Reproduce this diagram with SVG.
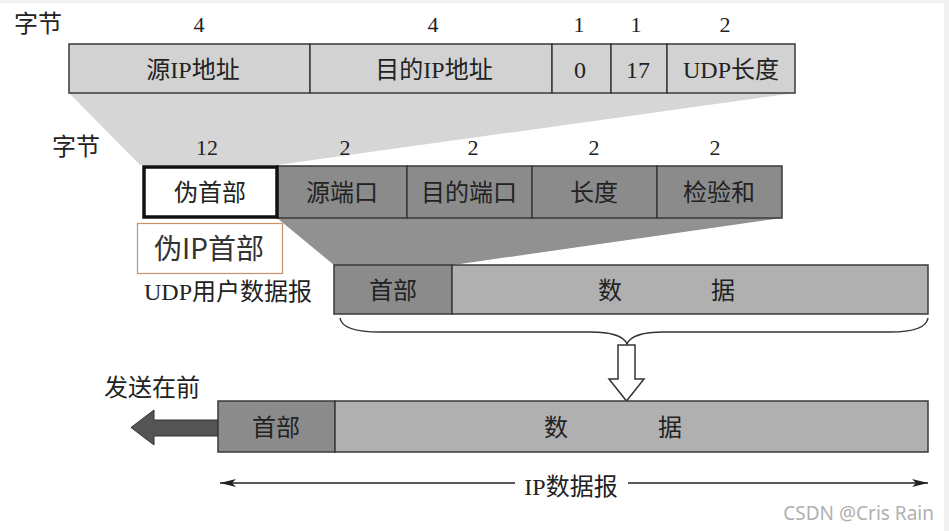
<svg xmlns="http://www.w3.org/2000/svg" width="949" height="531" viewBox="0 0 949 531">
<defs>
<style>
.t{font-family:"Liberation Serif","Noto Sans CJK SC",serif;fill:#222;text-anchor:middle}
.n{font-size:22px}
.f{font-size:24px}
.lt{fill:#d2d2d2;stroke:#3a3a3a;stroke-width:1.5}
.dk{fill:#8b8b8b;stroke:#3a3a3a;stroke-width:1.5}
.md{fill:#b0b0b0;stroke:#3a3a3a;stroke-width:1.5}
</style>
<marker id="ah" viewBox="0 0 16 8" refX="16" refY="4" markerWidth="16" markerHeight="8" markerUnits="userSpaceOnUse" orient="auto-start-reverse">
<path d="M0,0 L16,4 L0,8 L4,4 Z" fill="#222"/>
</marker>
</defs>
<rect width="949" height="531" fill="#f1f1f1"/>
<rect x="0" y="3" width="944" height="528" fill="#ffffff"/>

<g id="connectors">
<polygon points="69,93 795,93 277,165 140,165" fill="#d6d6d6"/>
<polygon points="277,218 782,218 453,265 334,265" fill="#919191"/>
<path d="M340,318 Q342,332 380,332 L590,332 Q622,332 627,344 Q632,332 664,332 L890,332 Q926,332 928,318" fill="none" stroke="#333" stroke-width="1.5"/>
<polygon points="618,345 635,345 635,379 644,379 626.5,401 609,379 618,379" fill="#fff" stroke="#333" stroke-width="1.5"/>
<polygon points="218,420 154,420 154,410 131,427.5 154,445 154,436 218,436" fill="#555" stroke="#333" stroke-width="1"/>
<line x1="220" y1="483" x2="515" y2="483" stroke="#222" stroke-width="1.5" marker-start="url(#ah)"/>
<line x1="628" y1="483" x2="928" y2="483" stroke="#222" stroke-width="1.5" marker-end="url(#ah)"/>
</g>

<g id="byte-labels-top">
<text class="t f" x="38" y="32">字节</text>
<text class="t n" x="199" y="32">4</text>
<text class="t n" x="433" y="32">4</text>
<text class="t n" x="579" y="32">1</text>
<text class="t n" x="636" y="32">1</text>
<text class="t n" x="725" y="32">2</text>
</g>

<g id="pseudo-ip-header">
<rect class="lt" x="69" y="44" width="241" height="49"/>
<rect class="lt" x="310" y="44" width="242" height="49"/>
<rect class="lt" x="552" y="44" width="59" height="49"/>
<rect class="lt" x="611" y="44" width="56" height="49"/>
<rect class="lt" x="667" y="44" width="128" height="49"/>
<text class="t f" x="193" y="78">源IP地址</text>
<text class="t f" x="434" y="78">目的IP地址</text>
<text class="t f" x="580" y="78">0</text>
<text class="t f" x="638" y="78">17</text>
<text class="t f" x="731" y="78">UDP长度</text>
</g>

<g id="byte-labels-udp">
<text class="t f" x="76" y="155">字节</text>
<text class="t n" x="207" y="155">12</text>
<text class="t n" x="345" y="155">2</text>
<text class="t n" x="473" y="155">2</text>
<text class="t n" x="594" y="155">2</text>
<text class="t n" x="715" y="155">2</text>
</g>

<g id="udp-header">
<rect class="dk" x="277" y="166" width="130" height="52"/>
<rect class="dk" x="407" y="166" width="125" height="52"/>
<rect class="dk" x="532" y="166" width="125" height="52"/>
<rect class="dk" x="657" y="166" width="125" height="52"/>
<rect x="144" y="167" width="133" height="50" fill="#fff" stroke="#111" stroke-width="3.5"/>
<text class="t f" x="210" y="201">伪首部</text>
<text class="t f" x="342" y="201">源端口</text>
<text class="t f" x="469" y="201">目的端口</text>
<text class="t f" x="594" y="201">长度</text>
<text class="t f" x="719" y="201">检验和</text>
</g>

<g id="pseudo-note">
<rect x="137.5" y="223.5" width="145" height="50" fill="#fff" stroke="#c9906a" stroke-width="1.2"/>
<text x="209" y="259" font-family="'Noto Sans CJK SC','Noto Sans',sans-serif" font-size="28" fill="#333" text-anchor="middle">伪IP首部</text>
</g>

<g id="udp-datagram">
<text class="t f" x="228" y="300">UDP用户数据报</text>
<rect class="dk" x="334" y="265" width="118" height="49"/>
<rect class="md" x="452" y="265" width="476" height="49"/>
<text class="t f" x="393" y="299">首部</text>
<text class="t f" x="610" y="299">数</text>
<text class="t f" x="723" y="299">据</text>
</g>

<g id="ip-datagram">
<text class="t f" x="152" y="396">发送在前</text>
<rect class="dk" x="218" y="401" width="117" height="51"/>
<rect class="md" x="335" y="401" width="593" height="51"/>
<text class="t f" x="276" y="436">首部</text>
<text class="t f" x="556" y="436">数</text>
<text class="t f" x="670" y="436">据</text>
<text class="t f" x="571" y="495">IP数据报</text>
</g>

<g id="watermark">
<text x="934" y="520" font-family="'Noto Sans','Open Sans',sans-serif" font-size="19" fill="#b0b0b0" text-anchor="end">CSDN @Cris Rain</text>
</g>
</svg>
